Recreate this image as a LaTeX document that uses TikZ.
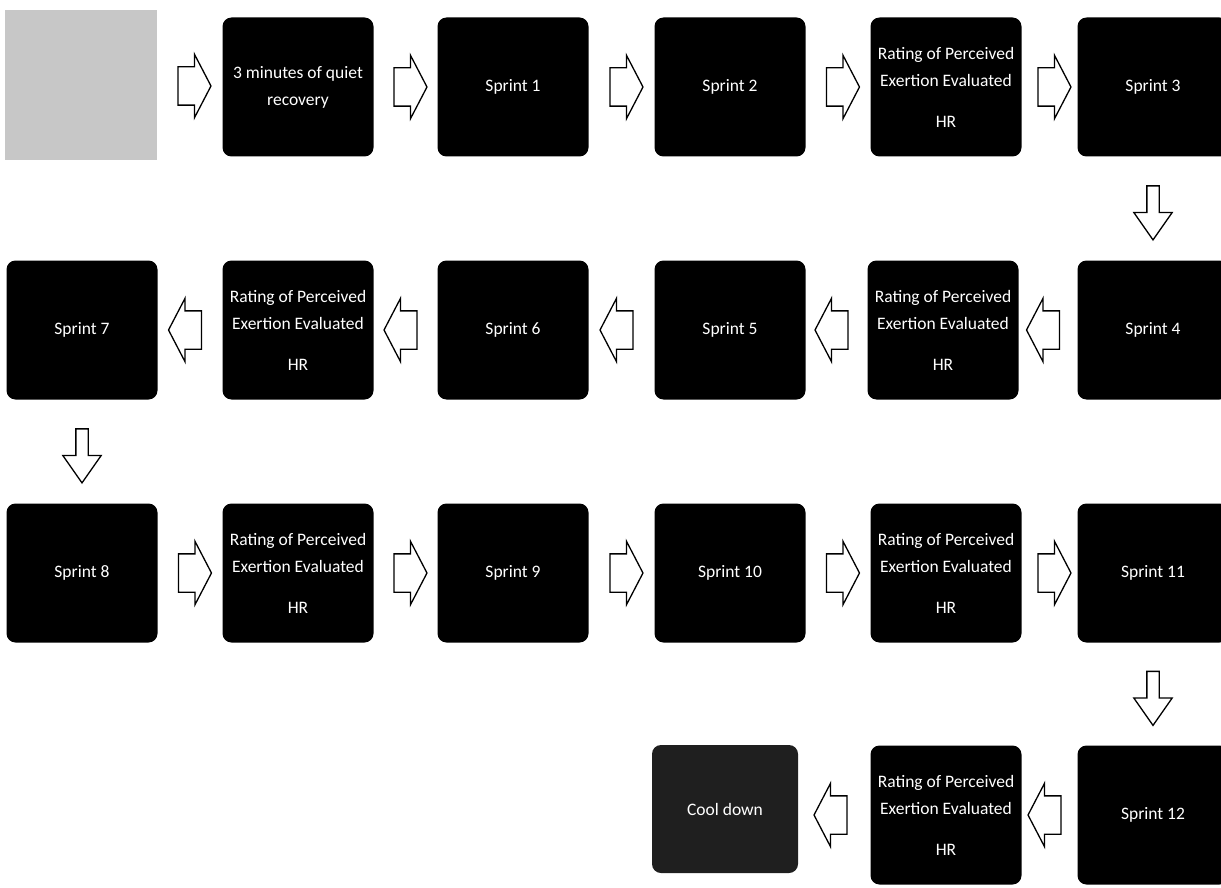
\documentclass[tikz,border=0pt]{standalone}
\usepackage{fontspec}
\setmainfont{Carlito}
\usetikzlibrary{shapes.arrows,calc}

\begin{document}
\begin{tikzpicture}[x=1pt, y=-1pt,
    blk/.style={rectangle, rounded corners=9pt, fill=black, text=white, minimum width=151pt, minimum height=139pt, align=center, font=\fontsize{17.5}{27}\selectfont},
    blkarr/.style={single arrow, draw=black, line width=1.3pt, fill=white, text height=0pt, text depth=0pt, text width=0pt},
    rarr/.style={blkarr, inner xsep=0pt, inner ysep=18.5pt, single arrow head extend=12.5pt, single arrow tip angle=125, minimum height=33pt},
    larr/.style={rarr, shape border rotate=180},
    darr/.style={blkarr, inner ysep=0pt, inner xsep=5.5pt, single arrow head extend=13pt, single arrow tip angle=70, minimum height=54pt, shape border rotate=270}]
        \useasboundingbox (0,0) rectangle (1221,888);
        % row 1
        \node [rectangle, fill=black!22, minimum width=152pt, minimum height=150pt] (w) at (81,85) {};
        \node [blk] (q) at (298,87) {3 minutes of quiet\\recovery};
        \node [blk] (s1) at (513,87) {Sprint 1};
        \node [blk] (s2) at (730,87) {Sprint 2};
        \node [blk] (r1) at (946,87) {Rating of Perceived\\Exertion Evaluated\\[14pt]HR};
        \node [blk] (s3) at (1153,87) {Sprint 3};
        % row 2
        \node [blk] (s4) at (1153,330) {Sprint 4};
        \node [blk] (r2) at (943,330) {Rating of Perceived\\Exertion Evaluated\\[14pt]HR};
        \node [blk] (s5) at (730,330) {Sprint 5};
        \node [blk] (s6) at (513,330) {Sprint 6};
        \node [blk] (r3) at (298,330) {Rating of Perceived\\Exertion Evaluated\\[14pt]HR};
        \node [blk] (s7) at (82,330) {Sprint 7};
        % row 3
        \node [blk] (s8) at (82,573) {Sprint 8};
        \node [blk] (r4) at (298,573) {Rating of Perceived\\Exertion Evaluated\\[14pt]HR};
        \node [blk] (s9) at (513,573) {Sprint 9};
        \node [blk] (s10) at (730,573) {Sprint 10};
        \node [blk] (r5) at (946,573) {Rating of Perceived\\Exertion Evaluated\\[14pt]HR};
        \node [blk] (s11) at (1153,573) {Sprint 11};
        % row 4
        \node [blk] (s12) at (1153,815) {Sprint 12};
        \node [blk] (r6) at (946,815) {Rating of Perceived\\Exertion Evaluated\\[14pt]HR};
        \node [blk, fill=black!88, minimum width=146pt, minimum height=128pt] (cd) at (725,809) {Cool down};
        % arrows
        \node [rarr] (a1) at ($(w)!0.5!(q)$) {};
        \node [rarr] (a2) at ($(q)!0.5!(s1)$) {};
        \node [rarr] (a3) at ($(s1)!0.5!(s2)$) {};
        \node [rarr] (a4) at ($(s2)!0.5!(r1)$) {};
        \node [rarr] (a5) at ($(r1)!0.5!(s3)$) {};
        \node [darr] (a6) at ($(s3)!0.5!(s4)$) {};
        \node [larr] (a7) at ($(s4)!0.5!(r2)$) {};
        \node [larr] (a8) at ($(r2)!0.5!(s5)$) {};
        \node [larr] (a9) at ($(s5)!0.5!(s6)$) {};
        \node [larr] (a10) at ($(s6)!0.5!(r3)$) {};
        \node [larr] (a11) at ($(r3)!0.5!(s7)$) {};
        \node [darr] (a12) at ($(s7)!0.5!(s8)$) {};
        \node [rarr] (a13) at ($(s8)!0.5!(r4)$) {};
        \node [rarr] (a14) at ($(r4)!0.5!(s9)$) {};
        \node [rarr] (a15) at ($(s9)!0.5!(s10)$) {};
        \node [rarr] (a16) at ($(s10)!0.5!(r5)$) {};
        \node [rarr] (a17) at ($(r5)!0.5!(s11)$) {};
        \node [darr] (a18) at ($(s11)!0.5!(s12)$) {};
        \node [larr] (a19) at ($(s12)!0.5!(r6)$) {};
        \node [larr] (a20) at ($(r6)!0.5!(s12 -| cd)$) {};
\end{tikzpicture}
\end{document}
